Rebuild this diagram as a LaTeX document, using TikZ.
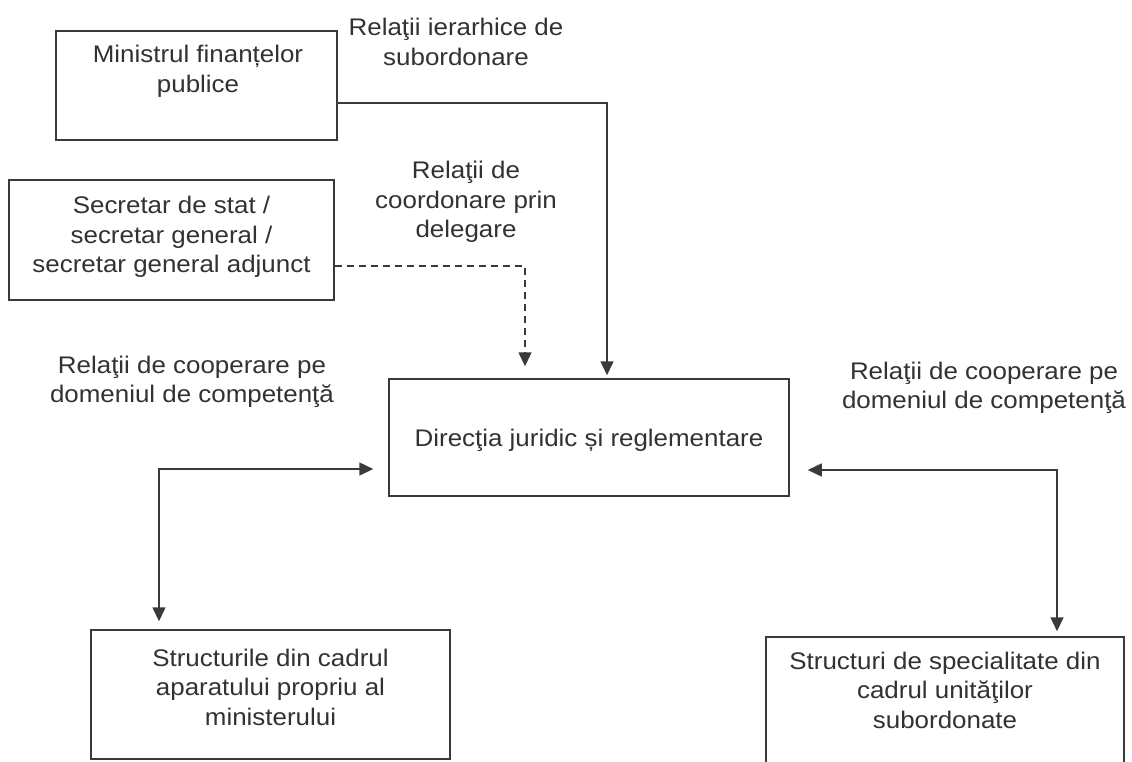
\documentclass[tikz,border=0pt]{standalone}
\usepackage{fontspec}
\setmainfont[FakeStretch=1.08]{Liberation Sans}
\usetikzlibrary{arrows.meta}
\definecolor{ink}{RGB}{58,58,58}
\definecolor{txtc}{RGB}{50,50,50}
\begin{document}
\begin{tikzpicture}[x=1pt,y=-1pt,
  box/.style={draw=ink, line width=1.5pt, inner sep=0pt, fill=none},
  txt/.style={align=center, text=txtc, inner sep=0pt, font=\fontsize{24}{29.5}\selectfont},
  conn/.style={draw=ink, line width=1.5pt},
  tipend/.style={conn, -{Triangle[length=14pt,width=13pt]}},
  tipboth/.style={conn, {Triangle[length=14pt,width=13pt]}-{Triangle[length=14pt,width=13pt]}},
  dashconn/.style={conn, dashed, dash pattern=on 7pt off 5pt, -{Triangle[length=14pt,width=13pt]}}
]
\useasboundingbox (0,0) rectangle (1132,761);
\clip (0,0) rectangle (1132,761);
\fill[white] (0,0) rectangle (1132,761);

% boxes
\node[box, minimum width=281pt, minimum height=109pt] (min) at (196.5,85.5) {};
\node[txt] (mint) at (198,71.5) {Ministrul finanțelor\\publice};

\node[box, minimum width=325pt, minimum height=120pt] (sec) at (171.5,240) {};
\node[txt] (sect) at (171.5,237) {Secretar de stat /\\secretar general /\\secretar general adjunct};

\node[box, minimum width=400pt, minimum height=117pt] (dir) at (589,437.5) {};
\node[txt] (dirt) at (589,440) {Direcţia juridic și reglementare};

\node[box, minimum width=359pt, minimum height=129pt] (sa) at (270.5,694.5) {};
\node[txt] (sat) at (270.5,687) {Structurile din cadrul\\aparatului propriu al\\ministerului};

\node[box, minimum width=358pt, minimum height=163pt] (sb) at (945,718.5) {};
\node[txt] (sbt) at (945,690) {Structuri de specialitate din\\cadrul unităţilor\\subordonate};

% labels
\node[txt] (l1) at (456,42) {Relaţii ierarhice de\\subordonare};
\node[txt] (l2) at (466,202) {Relaţii de\\coordonare prin\\delegare};
\node[txt] (l3) at (192,382) {Relaţii de cooperare pe\\domeniul de competenţă};
\node[txt] (l4) at (984,388) {Relaţii de cooperare pe\\domeniul de competenţă};

% connectors
\draw[tipend] ([yshift=-17.5pt]min.east) -| ([xshift=18pt,yshift=3pt]dir.north);
\draw[dashconn] ([yshift=-26pt]sec.east) -| ([xshift=-64pt,yshift=12pt]dir.north);
\draw[tipboth] ([xshift=-15pt,yshift=-31.5pt]dir.west) -| ([xshift=-111.5pt,yshift=8pt]sa.north);
\draw[tipboth] ([xshift=18pt,yshift=-32.5pt]dir.east) -| ([xshift=112pt,yshift=5pt]sb.north);
\end{tikzpicture}
\end{document}
